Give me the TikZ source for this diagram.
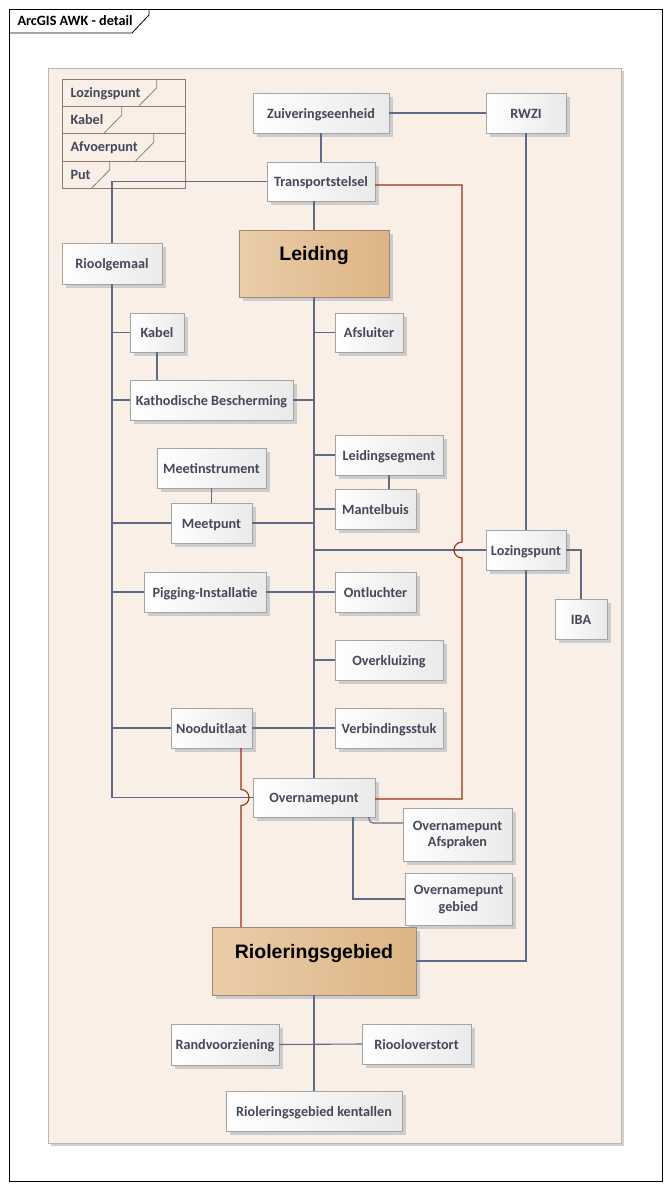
\documentclass[tikz,border=0pt]{standalone}
\usepackage{fontspec}
\setmainfont{Carlito}
\newfontfamily\headfont{Liberation Sans}
\usepackage{tikz}
\usetikzlibrary{positioning, shadows, backgrounds}

\definecolor{conncol}{HTML}{5E6A86}
\definecolor{redcol}{HTML}{9A2E10}
\definecolor{boxborder}{HTML}{A4A4A4}
\definecolor{boxright}{HTML}{EAEAEA}
\definecolor{pkgfill}{HTML}{FAEFE6}
\definecolor{pkgborder}{HTML}{BDB5AE}
\definecolor{tanleft}{HTML}{EACDA9}
\definecolor{tanright}{HTML}{DDB485}
\definecolor{tanborder}{HTML}{9E8878}
\definecolor{labelcol}{HTML}{45475A}
\definecolor{legendline}{HTML}{8E7C74}

\tikzset{
  elem/.style={draw=boxborder, rectangle, inner sep=0pt, minimum height=40,
    left color=white, right color=boxright, text=labelcol, align=center,
    text height=12.5pt, text depth=2.5pt,
    font=\fontsize{14.2}{16.5}\selectfont\bfseries,
    drop shadow={shadow xshift=3.5pt, shadow yshift=-3.5pt, fill=black!20, opacity=1}},
  twoline/.style={text height={}, text depth={}},
  mainelem/.style={elem, draw=tanborder, left color=tanleft, right color=tanright},
  legendrow/.style={draw=legendline, fill=pkgfill, rectangle, inner sep=0pt,
    minimum width=123, minimum height=27.3, text width=106, align=left,
    text height=12pt, text depth=3pt,
    text=labelcol, font=\fontsize{14.2}{16.5}\selectfont\bfseries},
  conn/.style={draw=conncol, line width=1.1pt},
  redconn/.style={draw=redcol, line width=1.1pt},
}

\begin{document}
\begin{tikzpicture}[x=1pt, y=-1pt]
        \useasboundingbox[fill=white] (0,0) rectangle (671,1189);
        % Frame and title tab
        \draw[black, line width=0.8pt] (9,9) rectangle (662,1181);
        \draw[black, line width=0.8pt] (9,33) -- (132,33) -- (149,15) -- (149,9);
        \node (title) [anchor=west, font=\fontsize{14.2}{16}\selectfont\bfseries] at (14,21) {ArcGIS AWK - detail};
        % Package area
        \fill[black!18] (51,71) rectangle (624,1146);
        \draw[pkgborder, fill=pkgfill, line width=0.8pt] (48,68) rectangle (621,1143);
        % Legend
        \foreach \txt/\nx [count=\i] in {Lozingspunt/95, Kabel/60, Afvoerpunt/92, Put/48} {
            \node (lg\i) [legendrow] at (123.5,{92.6+27.3*(\i-1)}) {\txt};
            \draw[legendline, line width=0.8pt] (lg\i.north west) ++(\nx,0) -- ++(0,9) -- ++(-18,18.3);
        }
        % Elements
        \node (zuiv) [elem, minimum width=136] at (321,113) {Zuiveringseenheid};
        \node (rwzi) [elem, minimum width=80] at (526,113) {RWZI};
        \node (transport) [elem, minimum width=108, minimum height=39] at (321,181.5) {Transportstelsel};
        \node (leiding) [mainelem, minimum width=150, minimum height=67,
            label={[anchor=north, yshift=-13pt, text=black, font=\headfont\fontsize{19.5}{22}\selectfont\bfseries]north:Leiding}] at (314,263.5) {};
        \node (rioolgemaal) [elem, minimum width=100, minimum height=41] at (112,263.5) {Rioolgemaal};
        \node (kabel) [elem, minimum width=54, minimum height=39] at (157,332.5) {Kabel};
        \node (afsluiter) [elem, minimum width=68, minimum height=39] at (369,332.5) {Afsluiter};
        \node (kathodisch) [elem, minimum width=163] at (211.5,400) {Kathodische Bescherming};
        \node (meetinstr) [elem, minimum width=109] at (211.5,468) {Meetinstrument};
        \node (leidingseg) [elem, minimum width=108] at (389,455) {Leidingsegment};
        \node (meetpunt) [elem, minimum width=81] at (211.5,523) {Meetpunt};
        \node (mantelbuis) [elem, minimum width=81] at (375.5,509) {Mantelbuis};
        \node (lozing) [elem, minimum width=80] at (526,550) {Lozingspunt};
        \node (iba) [elem, minimum width=52] at (581,619) {IBA};
        \node (pigging) [elem, minimum width=122] at (205,592) {Pigging-Installatie};
        \node (ontluchter) [elem, minimum width=81] at (375.5,592) {Ontluchter};
        \node (overkluizing) [elem, minimum width=108] at (389,660) {Overkluizing};
        \node (nooduitlaat) [elem, minimum width=81] at (211.5,728) {Nooduitlaat};
        \node (verbinding) [elem, minimum width=108] at (389,728) {Verbindingsstuk};
        \node (overname) [elem, minimum width=122, minimum height=39] at (314,797.5) {Overnamepunt};
        \node (overafspr) [elem, twoline, minimum width=109, minimum height=53] at (457.5,835) {Overnamepunt\\Afspraken};
        \node (overgebied) [elem, twoline, minimum width=107, minimum height=52] at (458.5,899.5) {Overnamepunt\\gebied};
        \node (riolering) [mainelem, minimum width=204, minimum height=68,
            label={[anchor=north, yshift=-14pt, text=black, font=\headfont\fontsize{19.5}{22}\selectfont\bfseries]north:Rioleringsgebied}] at (314,961) {};
        \node (randvoorz) [elem, minimum width=108, minimum height=41] at (225,1044.5) {Randvoorziening};
        \node (riooloverstort) [elem, minimum width=109] at (416.5,1044) {Riooloverstort};
        \node (kentallen) [elem, minimum width=176] at (314,1111) {Rioleringsgebied kentallen};
        % Top connectors
        \draw[conn] (zuiv.east) -- (rwzi.west);
        \draw[conn] (zuiv.south) -- (transport.north);
        \draw[conn] (transport.south -| leiding.north) -- (leiding.north);
        \draw[conn] (transport.west) -| (rioolgemaal.north);
        \draw[conn] (rwzi.south) -- (lozing.north);
        \draw[conn] (lozing.east) -| (iba.north);
        \draw[conn] (lozing.south) |- (riolering.east);
        % Left spine
        \draw[conn] (rioolgemaal.south) |- (overname.west);
        \draw[conn] (kabel.west) -- (kabel.west -| rioolgemaal.south);
        \draw[conn] (kathodisch.west) -- (kathodisch.west -| rioolgemaal.south);
        \draw[conn] (meetpunt.west) -- (meetpunt.west -| rioolgemaal.south);
        \draw[conn] (pigging.west) -- (pigging.west -| rioolgemaal.south);
        \draw[conn] (nooduitlaat.west) -- (nooduitlaat.west -| rioolgemaal.south);
        \draw[conn] (kabel.south) -- (kabel.south |- kathodisch.north);
        \draw[conn] (meetinstr.south) -- (meetpunt.north);
        % Middle spine
        \draw[conn] (leiding.south) -- (overname.north);
        \draw[conn] (afsluiter.west) -- (afsluiter.west -| leiding.south);
        \draw[conn] (kathodisch.east) -- (kathodisch.east -| leiding.south);
        \draw[conn] (leidingseg.west) -- (leidingseg.west -| leiding.south);
        \draw[conn] (leidingseg.south) -- (leidingseg.south |- mantelbuis.north);
        \draw[conn] (meetpunt.east) -- (meetpunt.east -| leiding.south);
        \draw[conn] (mantelbuis.west) -- (mantelbuis.west -| leiding.south);
        \draw[conn] (lozing.west) -- (lozing.west -| leiding.south);
        \draw[conn] (pigging.east) -- (ontluchter.west);
        \draw[conn] (overkluizing.west) -- (overkluizing.west -| leiding.south);
        \draw[conn] (nooduitlaat.east) -- (verbinding.west);
        % Overnamepunt details
        \draw[conn, rounded corners=4pt] ([xshift=55pt]overname.south) |- ([yshift=12pt]overafspr.west);
        \draw[conn] ([xshift=39pt]overname.south) |- ([yshift=0.5pt]overgebied.west);
        % Rioleringsgebied
        \draw[conn] (riolering.south) -- (kentallen.north);
        \draw[conn] (randvoorz.east) -- (riooloverstort.west);
        % Red links with hops
        \coordinate (hopA) at (462,550);
        \coordinate (hopB) at (241,797.5);
        \draw[redconn] ([yshift=-3.5pt]transport.east) -| ([yshift=8pt]hopA)
            arc[start angle=90, end angle=270, radius=8pt]
            -- ([yshift=-1.5pt]overname.east -| hopA) -- ([yshift=-1.5pt]overname.east);
        \draw[redconn] (nooduitlaat.south -| hopB) -- ([yshift=8pt]hopB)
            arc[start angle=90, end angle=-90, radius=8pt]
            -- (riolering.north -| hopB);
    \end{tikzpicture}
\end{document}
